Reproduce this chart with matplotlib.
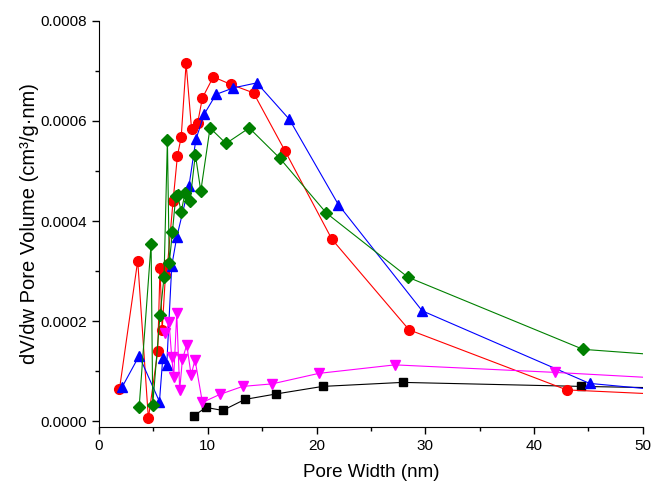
import matplotlib
matplotlib.use("Agg")
import matplotlib.pyplot as plt
from matplotlib.ticker import MultipleLocator, FormatStrFormatter

plt.rcParams['font.family'] = ['Liberation Sans', 'DejaVu Sans']

# pore width (nm) and dV/dw (cm3/g.nm)
black_x = [8.73, 9.83, 11.37, 13.4, 16.3, 20.56, 27.9, 44.3, 52.0]
black_y = [1.16e-5, 2.8e-5, 2.2e-5, 4.4e-5, 5.5e-5, 7.0e-5, 7.8e-5, 7.0e-5, 6.7e-5]

red_x = [1.87, 3.55, 4.53, 5.39, 5.6, 5.8, 6.1, 6.3, 6.8, 7.2, 7.55, 8.0, 8.5,
         9.05, 9.5, 10.5, 12.1, 14.2, 17.1, 21.4, 28.5, 43.0, 52.0]
red_y = [6.4e-5, 3.21e-4, 6e-6, 1.40e-4, 3.07e-4, 1.83e-4, 2.92e-4, 3.15e-4,
         4.4e-4, 5.3e-4, 5.68e-4, 7.15e-4, 5.84e-4, 5.95e-4, 6.46e-4, 6.88e-4,
         6.73e-4, 6.56e-4, 5.40e-4, 3.64e-4, 1.83e-4, 6.3e-5, 5.4e-5]

blue_x = [2.14, 3.68, 5.55, 5.85, 6.22, 6.68, 7.14, 8.27, 8.9, 9.65, 10.75,
          12.35, 14.5, 17.5, 22.0, 29.7, 45.1, 52.0]
blue_y = [6.96e-5, 1.31e-4, 3.96e-5, 1.26e-4, 1.13e-4, 3.11e-4, 3.68e-4,
          4.71e-4, 5.63e-4, 6.13e-4, 6.53e-4, 6.66e-4, 6.76e-4, 6.03e-4,
          4.33e-4, 2.21e-4, 7.6e-5, 6.2e-5]

green_x = [3.68, 4.78, 4.93, 5.6, 5.97, 6.28, 6.45, 6.74, 7.05, 7.23, 7.54,
           7.9, 8.36, 8.85, 9.35, 10.2, 11.67, 13.8, 16.6, 20.9, 28.4, 44.5, 52.0]
green_y = [2.8e-5, 3.55e-4, 3.3e-5, 2.12e-4, 2.88e-4, 5.62e-4, 3.16e-4,
           3.78e-4, 4.5e-4, 4.53e-4, 4.18e-4, 4.56e-4, 4.40e-4, 5.33e-4,
           4.6e-4, 5.86e-4, 5.55e-4, 5.86e-4, 5.26e-4, 4.16e-4, 2.88e-4,
           1.44e-4, 1.32e-4]

mag_x = [6.07, 6.43, 6.68, 6.86, 7.14, 7.41, 7.66, 8.06, 8.46, 8.82, 9.5,
         11.1, 13.2, 15.9, 20.2, 27.2, 41.9, 52.0]
mag_y = [1.76e-4, 1.98e-4, 1.28e-4, 8.8e-5, 2.16e-4, 6.3e-5, 1.24e-4,
         1.53e-4, 9.3e-5, 1.23e-4, 3.8e-5, 5.4e-5, 7.0e-5, 7.5e-5, 9.6e-5,
         1.13e-4, 9.8e-5, 8.6e-5]

fig = plt.figure(figsize=(6.52, 4.83), dpi=100)
ax = fig.add_axes([0.152, 0.116, 0.834, 0.841])

lw = 0.8
ax.plot(black_x, black_y, color='black', lw=lw, marker='s', ms=6)
ax.plot(red_x, red_y, color='red', lw=lw, marker='o', ms=7)
ax.plot(blue_x, blue_y, color='blue', lw=lw, marker='^', ms=7.5)
ax.plot(green_x, green_y, color='green', lw=lw, marker='D', ms=6.3)
ax.plot(mag_x, mag_y, color='magenta', lw=lw, marker='v', ms=7.5)

ax.set_xlim(0, 50)
ax.set_ylim(-1.1e-5, 0.0008)
ax.xaxis.set_major_locator(MultipleLocator(10))
ax.xaxis.set_minor_locator(MultipleLocator(5))
ax.yaxis.set_major_locator(MultipleLocator(0.0002))
ax.yaxis.set_minor_locator(MultipleLocator(0.0001))
ax.yaxis.set_major_formatter(FormatStrFormatter('%.4f'))

ax.spines['top'].set_visible(False)
ax.spines['right'].set_visible(False)
ax.tick_params(which='major', direction='out', length=5, width=1, labelsize=11)
ax.tick_params(which='minor', direction='out', length=3, width=1)

ax.set_xlabel('Pore Width (nm)', fontsize=13.5, labelpad=8)
ax.set_ylabel('dV/dw Pore Volume (cm³/g·nm)', fontsize=14.5, labelpad=1)

fig.savefig('out.png', dpi=100)
